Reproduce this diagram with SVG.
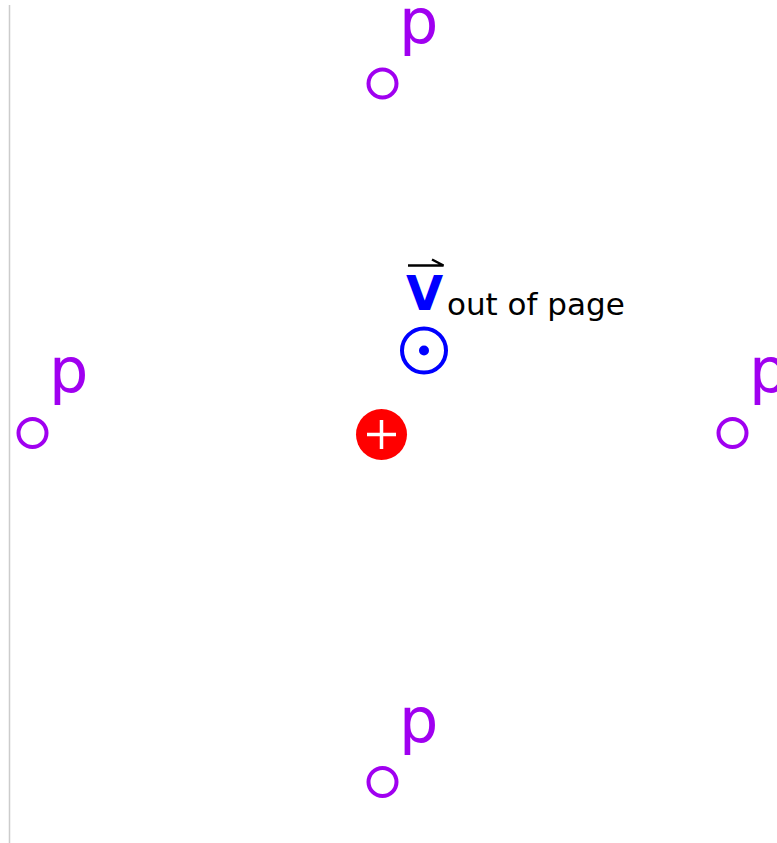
<svg xmlns="http://www.w3.org/2000/svg" width="777" height="843" viewBox="0 0 777 843">
<style>
.pc{fill:none;stroke:#a000f0;stroke-width:4}
.pt{font-family:"DejaVu Sans",sans-serif;font-size:62px;fill:#a000f0}
</style>
<rect width="777" height="843" fill="#fff"/>
<line x1="9.5" y1="5" x2="9.5" y2="843" stroke="#cccccc" stroke-width="1.5"/>
<g id="p-top"><circle class="pc" cx="382.5" cy="83.5" r="14"/><text class="pt" x="399" y="43">p</text></g>
<g id="p-left"><circle class="pc" cx="32.5" cy="433" r="14"/><text class="pt" x="49" y="392">p</text></g>
<g id="p-right"><circle class="pc" cx="732.5" cy="433" r="14"/><text class="pt" x="749" y="392">p</text></g>
<g id="p-bottom"><circle class="pc" cx="382.5" cy="782" r="14"/><text class="pt" x="399" y="742">p</text></g>
<g id="charge"><circle cx="381.5" cy="434.5" r="25.5" fill="#ff0000"/><path d="M367 434.5H396M381.5 420V449" stroke="#fff" stroke-width="3.5"/></g>
<g id="velocity">
<circle cx="424" cy="350.5" r="22" fill="none" stroke="#0000ff" stroke-width="4"/>
<circle cx="424" cy="350.5" r="5" fill="#0000ff"/>
<text x="406" y="310" font-family="DejaVu Sans,sans-serif" font-weight="bold" font-size="48" fill="#0000ff">V</text>
<path d="M408 265.5H443.5L432 259.5" fill="none" stroke="#000" stroke-width="2.5"/>
<text x="447" y="315" font-family="DejaVu Sans,sans-serif" font-size="31" fill="#000">out of page</text>
</g>
</svg>
